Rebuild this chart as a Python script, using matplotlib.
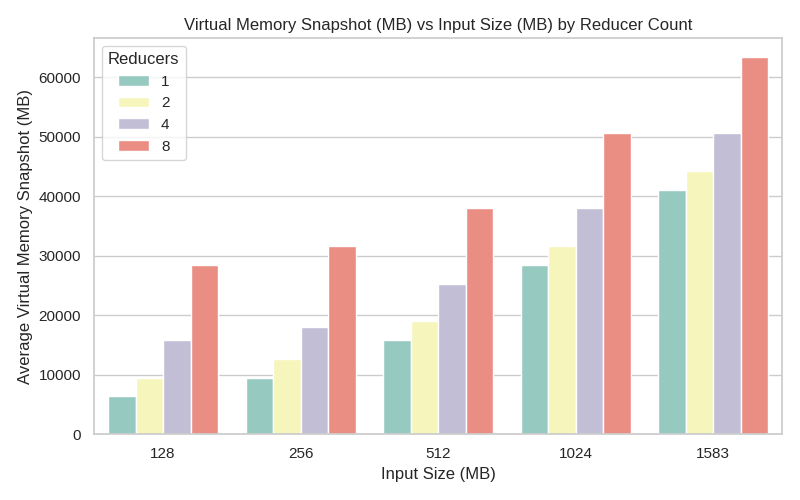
import matplotlib
matplotlib.use("Agg")
import matplotlib.pyplot as plt
import pandas as pd
import seaborn as sns

input_sizes = [128, 256, 512, 1024, 1583]
reducers = [1, 2, 4, 8]

# average virtual memory snapshot (MB), one list per reducer count
vmem_r1 = [6350, 9500, 15800, 28450, 41150]
vmem_r2 = [9500, 12650, 19000, 31650, 44300]
vmem_r4 = [15800, 18000, 25300, 38000, 50650]
vmem_r8 = [28450, 31650, 38000, 50650, 63400]

rows = []
for r, vals in zip(reducers, [vmem_r1, vmem_r2, vmem_r4, vmem_r8]):
    for size, v in zip(input_sizes, vals):
        rows.append({"Input Size (MB)": size, "Reducers": r, "vmem": v})
df = pd.DataFrame(rows)

sns.set_theme(style="whitegrid")
plt.rcParams['font.family'] = ['Liberation Sans', 'DejaVu Sans']
fig, ax = plt.subplots(figsize=(8, 5), dpi=100)
sns.barplot(data=df, x="Input Size (MB)", y="vmem", hue="Reducers",
            palette="Set3", ax=ax)
ax.set_title("Virtual Memory Snapshot (MB) vs Input Size (MB) by Reducer Count")
ax.set_xlabel("Input Size (MB)")
ax.set_ylabel("Average Virtual Memory Snapshot (MB)")
ax.legend(title="Reducers", loc="upper left")
plt.tight_layout()
plt.savefig("out.png")
